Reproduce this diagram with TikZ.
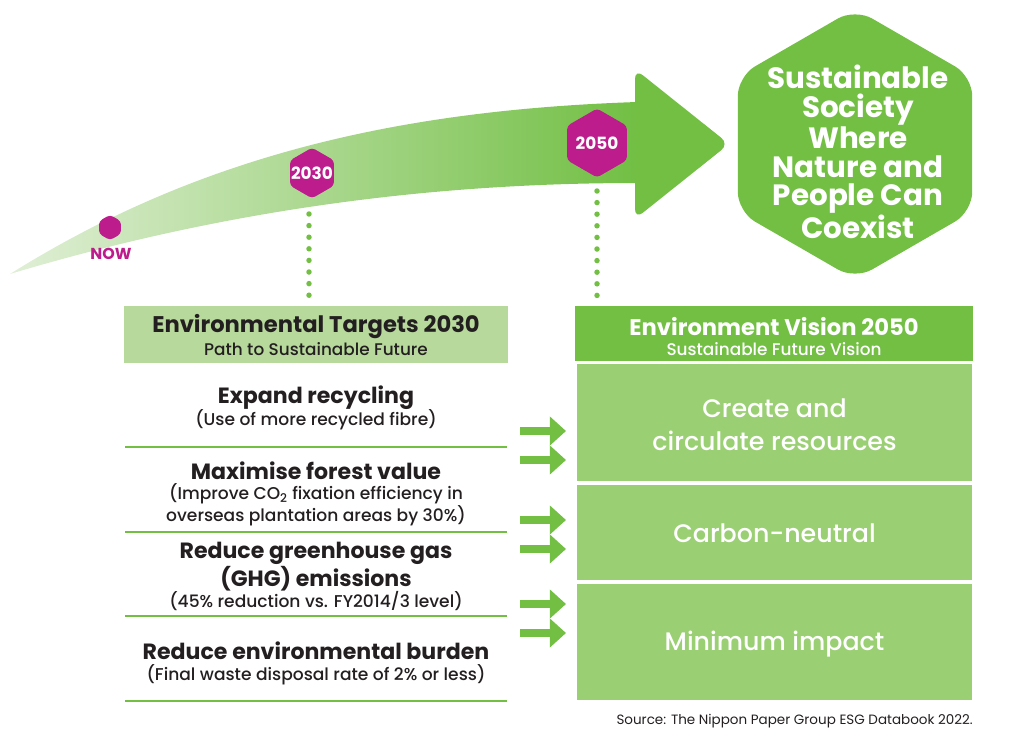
\documentclass[tikz,border=0pt]{standalone}
\usepackage{fontspec}
\setmainfont{Poppins}
\newfontfamily\medfont{Poppins Medium}
\usetikzlibrary{arrows.meta,shapes.geometric}

\definecolor{leafgreen}{HTML}{72BF44}
\definecolor{palegreen}{HTML}{B7D99C}
\definecolor{midgreen}{HTML}{9BCF74}
\definecolor{fadegreen}{HTML}{E0EFD6}
\definecolor{magentahex}{HTML}{BC1C8C}
\definecolor{inkdark}{HTML}{231F20}

\newcommand{\fsz}[2]{\fontsize{#1}{#2}\selectfont}

\tikzset{
  yearhex/.style={regular polygon, regular polygon sides=6, shape border rotate=30, fill=magentahex, inner sep=0pt, rounded corners=2.5pt},
  yeartext/.style={text=white, font=\fsz{12}{14}\bfseries},
  bigtitle/.style={text=white, align=center, font=\fsz{20.9}{20.3}\bfseries},
  headmain/.style={font=\fsz{16.1}{18}\bfseries},
  headsub/.style={font=\medfont\fsz{12}{13}},
  itemmain/.style={text=inkdark, align=center, font=\fsz{15.7}{20}\bfseries},
  itemsub/.style={text=inkdark, align=center, font=\medfont\fsz{12.15}{15.4}},
  visionbox/.style={fill=midgreen, minimum width=281pt, text=white, inner sep=0pt},
  visiontext/.style={text=white, align=center, font=\medfont\fsz{18}{23.5}},
  dotline/.style={draw=leafgreen, line width=3.9pt, line cap=round, dash pattern=on 0pt off 8.25pt},
  smallarrow/.style={draw=leafgreen, line width=5pt, -{Triangle[length=11.5pt,width=20pt,fill=leafgreen]}},
  rule/.style={draw=leafgreen, line width=1.5pt}
}

\begin{document}
\begin{tikzpicture}[x=0.025cm,y=-0.025cm]
\useasboundingbox (0,0) rectangle (1024,744);

\shade[left color=fadegreen, right color=leafgreen] (10,274) .. controls (200,155) and (400,110) .. (637,102) -- (637,183) .. controls (450,183) and (240,205) .. (10,274) -- cycle;
\fill[leafgreen, rounded corners=7pt] (635,69) -- (729,144) -- (635,219) -- cycle;

\node (nowhex) at (110,227.5) [yearhex, minimum size=18pt] {};
\node (nowlabel) at (111,254) [text=magentahex, font=\fsz{11.3}{13}\bfseries] {NOW};
\node (hex2030) at (312,173) [yearhex, minimum size=36pt] {};
\node (year2030) at (hex2030.center) [yeartext] {2030};
\node (hex2050) at (597,143) [yearhex, minimum size=49pt] {};
\node (year2050) at (hex2050.center) [yeartext] {2050};

\coordinate (dotstart30) at (309,214);
\coordinate (dotend30) at (309,296);
\coordinate (dotstart50) at (597,191);
\coordinate (dotend50) at (597,296);
\draw[dotline] (dotstart30) -- (dotend30);
\draw[dotline] (dotstart50) -- (dotend50);

\node (societyhex) at (855,144) [regular polygon, regular polygon sides=6, shape border rotate=30, fill=leafgreen, inner sep=0pt, minimum size=192.5pt, rounded corners=14pt] {};
\node (society) at (858,152) [bigtitle] {Sustainable\\Society\\Where\\Nature and\\People Can\\Coexist};

\fill[palegreen] (124,306) rectangle (508,363);
\node (targets) at (316,327) [headmain, text=inkdark] {Environmental Targets 2030};
\node (targetssub) at (316,349) [headsub, text=inkdark] {Path to Sustainable Future};

\fill[leafgreen] (575,306) rectangle (973,361);
\node (vision) at (774,326.5) [headmain, text=white] {Environment Vision 2050};
\node (visionsub) at (774,349) [headsub, text=white] {Sustainable Future Vision};

\node (recycle) at (316,398) [itemmain] {Expand recycling};
\node (recyclesub) at (316,419.5) [itemsub] {(Use of more recycled fibre)};
\draw[rule] (125,447) -- (507,447);

\node (forest) at (316,470.5) [itemmain] {Maximise forest value};
\node (forestsub) at (316,504.5) [itemsub] {(Improve CO\textsubscript{2} fixation efficiency in\\overseas plantation areas by 30\%)};
\draw[rule] (125,532) -- (507,532);

\node (ghg) at (316,567) [itemmain] {Reduce greenhouse gas\\(GHG) emissions};
\node (ghgsub) at (316,601.5) [itemsub] {(45\% reduction vs. FY2014/3 level)};
\draw[rule] (125,616) -- (507,616);

\node (burden) at (316,650.5) [itemmain] {Reduce environmental burden};
\node (burdensub) at (316,674.5) [itemsub] {(Final waste disposal rate of 2\% or less)};
\draw[rule] (125,701) -- (507,701);

\foreach \n/\y in {a/431, b/460, c/520, d/549, e/604, f/633} {
  \coordinate (from\n) at (520,\y);
  \coordinate (to\n) at (566,\y);
  \draw[smallarrow] (from\n) -- (to\n);
}

\node (resources) at (774.5,422.5) [visionbox, minimum height=83.2pt] {};
\node (resourcestext) at (774.5,425) [visiontext] {Create and\\circulate resources};
\node (carbon) at (774.5,532.5) [visionbox, minimum height=67.5pt] {};
\node (carbontext) at (774.5,533.5) [visiontext] {Carbon-neutral};
\node (impact) at (774.5,642) [visionbox, minimum height=82.5pt] {};
\node (impacttext) at (774.5,644.5) [visiontext] {Minimum impact};

\node (source) at (973,721) [anchor=east, inner sep=0pt, text=inkdark, font=\fsz{9.6}{11}] {Source: The Nippon Paper Group ESG Databook 2022.};

\end{tikzpicture}
\end{document}
